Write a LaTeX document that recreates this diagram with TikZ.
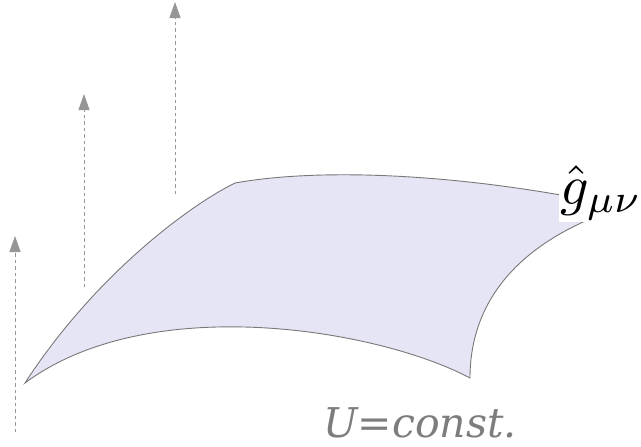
\documentclass[tikz,border=0pt]{standalone}
\usepackage{fontspec}
\newfontfamily\labelfont{DejaVu Serif}
\usetikzlibrary{arrows.meta}
\definecolor{surf}{RGB}{230,229,245}
\definecolor{edgec}{RGB}{120,120,120}
\definecolor{arrc}{RGB}{150,150,150}
\definecolor{txtc}{RGB}{125,125,125}
\tikzset{
  uparrow/.style={draw=arrc, line width=1pt, dash pattern=on 3.5pt off 3pt,
    -{Triangle[length=16pt,width=11pt,fill=arrc,sep=0pt]}},
  surface/.style={fill=surf, draw=edgec, line width=0.9pt},
}
\begin{document}
\begin{tikzpicture}[x=1pt,y=-1pt]
\useasboundingbox (0,0) rectangle (641,447);
% arrows
\coordinate (a1s) at (15,432); \coordinate (a1e) at (15,236);
\coordinate (a2s) at (84,287); \coordinate (a2e) at (84,94);
\coordinate (a3s) at (175,194); \coordinate (a3e) at (175,2);
\draw[uparrow] (a1s) -- (a1e);
\draw[uparrow] (a2s) -- (a2e);
\draw[uparrow] (a3s) -- (a3e);
% surface
\coordinate (A) at (25,383);
\coordinate (B) at (235,183);
\coordinate (C) at (622,207);
\coordinate (D) at (470,378);
\path[surface] (A) .. controls (95,275) and (190,205) .. (B)
  .. controls (330,166) and (480,176) .. (C)
  .. controls (520,240) and (470,300) .. (D)
  .. controls (380,330) and (150,290) .. (A) -- cycle;
\node[fill=white, inner sep=0.2pt, scale=5.6] (g) at (601,193) {$\hat g_{\mu\nu}$};
\node[text=txtc, inner sep=0pt] (u) at (420,423) {\fontsize{41}{48}\selectfont\labelfont\itshape U=const.};
\end{tikzpicture}
\end{document}
